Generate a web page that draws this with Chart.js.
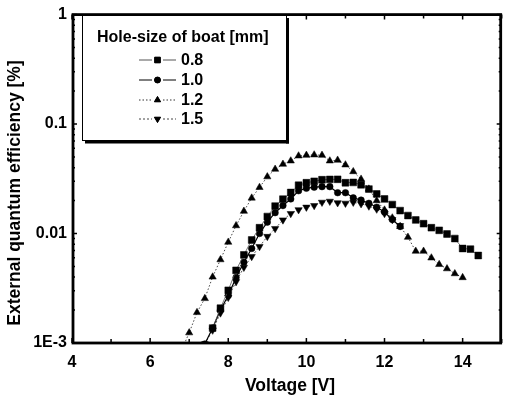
<!DOCTYPE html>
<html><head><meta charset="utf-8">
<script src="https://cdn.jsdelivr.net/npm/chart.js@4/dist/chart.umd.min.js"></script>
<style>html,body{margin:0;padding:0;background:#fff}#wrap{width:507px;height:403px}</style>
</head><body><div id="wrap"><canvas id="c" width="507" height="403"></canvas></div>
<script>
// ---- data ----
const labels = ['0.8', '1.0', '1.2', '1.5'];
const legendTitle = 'Hole-size of boat [mm]';
const xTitle = 'Voltage [V]';
const yTitle = 'External quantum efficiency [%]';
const xTicks = [4, 6, 8, 10, 12, 14];
const yTicks = [0.001, 0.01, 0.1, 1];
const yTickLabels = ['1E-3', '0.01', '0.1', '1'];

const v08 = [7.6,7.8,8.0,8.2,8.4,8.6,8.8,9.0,9.2,9.4,9.6,9.8,10.0,10.2,10.4,10.6,10.8,11.0,11.2,11.4,11.6,11.8,12.0,12.2,12.4,12.6,12.8,13.0,13.2,13.4,13.6,13.8,14.0,14.2,14.4];
const e08 = [0.00137,0.00208,0.00303,0.00461,0.00638,0.00873,0.0113,0.0143,0.0178,0.0206,0.0237,0.0276,0.0291,0.0300,0.0310,0.0312,0.0313,0.0291,0.0293,0.0279,0.0255,0.0230,0.0207,0.0184,0.0162,0.0146,0.0133,0.0123,0.0113,0.0107,0.0099,0.0090,0.0073,0.0072,0.0063];

const v10 = [7.4,7.6,7.8,8.0,8.2,8.4,8.6,8.8,9.0,9.2,9.4,9.6,9.8,10.0,10.2,10.4,10.6,10.8,11.0,11.2,11.4,11.6,11.8,12.0,12.2,12.4];
const e10 = [0.00098,0.00137,0.0020,0.00272,0.00396,0.00546,0.00731,0.0100,0.0127,0.0155,0.0180,0.0207,0.0246,0.0259,0.0265,0.0268,0.0268,0.0236,0.0236,0.0212,0.0202,0.0189,0.0174,0.0157,0.0134,0.0116];

const v12 = [6.8,7.0,7.2,7.4,7.6,7.8,8.0,8.2,8.4,8.6,8.8,9.0,9.2,9.4,9.6,9.8,10.0,10.2,10.4,10.6,10.8,11.0,11.2,11.4,11.6,11.8,12.0,12.2,12.4,12.6,12.8,13.0,13.2,13.4,13.6,13.8,14.0];
const e12 = [0.00085,0.00124,0.00190,0.00255,0.00401,0.00577,0.00834,0.0118,0.0160,0.0211,0.0264,0.0330,0.0387,0.0430,0.0461,0.0512,0.0519,0.0523,0.0519,0.0461,0.0468,0.0424,0.0368,0.0314,0.0255,0.0200,0.0164,0.0139,0.0116,0.00925,0.00690,0.00690,0.00599,0.00522,0.00477,0.00430,0.00396];

const v15 = [7.4,7.6,7.8,8.0,8.2,8.4,8.6,8.8,9.0,9.2,9.4,9.6,9.8,10.0,10.2,10.4,10.6,10.8,11.0,11.2,11.4,11.6,11.8,12.0,12.2,12.4];
const e15 = [0.00098,0.00131,0.00188,0.00261,0.00363,0.00491,0.00616,0.0076,0.0094,0.0111,0.0133,0.0152,0.0165,0.0174,0.0180,0.0193,0.0197,0.0191,0.0189,0.0193,0.0187,0.0178,0.0167,0.0152,0.0134,0.0118];

const xs = [v08, v10, v12, v15];
const ys = [e08, e10, e12, e15];
const styles = [
  {pointStyle:'rect', rot:0, r:4.8, dash:[], lw:0.8, lc:'#555'},
  {pointStyle:'circle', rot:0, r:3.3, dash:[], lw:1.2, lc:'#000'},
  {pointStyle:'triangle', rot:0, r:4.2, dash:[1.5,2], lw:0.9, lc:'#333'},
  {pointStyle:'triangle', rot:180, r:4.2, dash:[2,2], lw:0.9, lc:'#444'}
];

const datasets = labels.map((lab, i) => ({
  label: lab,
  data: xs[i].map((x, k) => ({x: x, y: ys[i][k]})),
  borderColor: styles[i].lc,
  borderWidth: styles[i].lw,
  borderDash: styles[i].dash,
  backgroundColor: '#000',
  pointBackgroundColor: '#000',
  pointBorderColor: '#000',
  pointBorderWidth: 0.5,
  pointStyle: styles[i].pointStyle,
  pointRotation: styles[i].rot,
  pointRadius: styles[i].r,
  tension: 0
}));

const FONT = '"Liberation Sans", Arial, sans-serif';

const decor = {
  id: 'decor',
  afterDatasetsDraw(chart) {
    const ctx = chart.ctx, a = chart.chartArea;
    const xs_ = chart.scales.x, ys_ = chart.scales.y;
    ctx.save();
    ctx.strokeStyle = '#000';
    // ticks
    ctx.lineWidth = 1.5;
    const xt = (v, len) => {
      const p = xs_.getPixelForValue(v);
      ctx.beginPath(); ctx.moveTo(p, a.bottom); ctx.lineTo(p, a.bottom - len);
      ctx.moveTo(p, a.top); ctx.lineTo(p, a.top + len); ctx.stroke();
    };
    for (let v = xs_.min; v <= xs_.max + 1e-9; v += 1) xt(v, (v % 2 === 0) ? 5 : 4);
    const yt = (v, len) => {
      const p = ys_.getPixelForValue(v);
      ctx.beginPath(); ctx.moveTo(a.left, p); ctx.lineTo(a.left + len, p);
      ctx.moveTo(a.right, p); ctx.lineTo(a.right - len, p); ctx.stroke();
    };
    for (let d = 0.001; d < 1.5; d *= 10) {
      yt(d, 5);
      if (d < 0.9) for (let m = 2; m <= 9; m++) yt(d * m, 3);
    }
    // frame
    ctx.lineWidth = 2.8;
    ctx.strokeRect(a.left + 1, a.top, a.right - a.left - 2, a.bottom - a.top);

    // axis titles
    ctx.fillStyle = '#000';
    ctx.textAlign = 'center';
    ctx.textBaseline = 'middle';
    ctx.font = 'bold 17.5px ' + FONT;
    ctx.fillText(xTitle, 290, 386);
    ctx.save();
    ctx.translate(15, 193);
    ctx.rotate(-Math.PI / 2);
    ctx.fillText(yTitle, 0, 0);
    ctx.restore();

    // legend box
    const bx = 82, by = 15, bw = 204, bh = 125;
    ctx.fillStyle = '#fff';
    ctx.fillRect(bx, by, bw, bh);
    ctx.lineWidth = 1;
    ctx.strokeRect(bx + 0.5, by + 0.5, bw, bh);
    ctx.fillStyle = '#000';
    ctx.fillRect(bx + 3, by + bh, bw, 3.5);
    ctx.fillRect(bx + bw, by + 3, 3, bh + 0.5);
    ctx.font = 'bold 16px ' + FONT;
    ctx.textBaseline = 'middle';
    ctx.textAlign = 'left';
    ctx.fillText(legendTitle, 97, 38);
    const rows = [60, 80, 100, 119];
    labels.forEach((lab, i) => {
      const y = rows[i];
      const s = styles[i];
      ctx.save();
      ctx.strokeStyle = s.lc; ctx.lineWidth = 1; ctx.setLineDash(s.dash);
      ctx.beginPath(); ctx.moveTo(139, y); ctx.lineTo(152, y); ctx.moveTo(163, y); ctx.lineTo(176, y); ctx.stroke();
      ctx.restore();
      const rr = i === 0 ? 4 : (i === 1 ? 3 : 3.6);
      Chart.helpers.drawPoint(ctx, {pointStyle: s.pointStyle, rotation: s.rot, radius: rr, borderWidth: 0.5}, 157.5, y);
      ctx.fillStyle = '#000';
      ctx.fill();
      ctx.font = 'bold 16px ' + FONT;
      ctx.fillText(lab, 181, y + 1);
    });
    ctx.restore();
  }
};

new Chart(document.getElementById('c'), {
  type: 'line',
  data: { datasets },
  options: {
    responsive: false,
    animation: false,
    events: [],
    layout: { padding: { top: 13, right: 0, left: 0, bottom: 0 } },
    plugins: { legend: { display: false }, tooltip: { enabled: false } },
    scales: {
      x: {
        type: 'linear', min: 4, max: 15,
        afterFit: s => { s.height = 60; },
        afterBuildTicks: s => { s.ticks = xTicks.map(v => ({value: v})); },
        grid: { display: false, drawTicks: false },
        border: { display: false },
        ticks: { color: '#000', font: { family: FONT, size: 16, weight: 'bold' }, padding: 10, maxRotation: 0 }
      },
      y: {
        type: 'logarithmic', min: 0.001, max: 1,
        afterFit: s => { s.width = 72; },
        afterBuildTicks: s => { s.ticks = yTicks.map(v => ({value: v})); },
        grid: { display: false, drawTicks: false },
        border: { display: false },
        ticks: { color: '#000', font: { family: FONT, size: 16, weight: 'bold' }, padding: 5,
          callback: v => { const i = yTicks.findIndex(t => Math.abs(t - v) < v * 1e-6); return i >= 0 ? yTickLabels[i] : ''; } }
      }
    }
  },
  plugins: [decor]
});
</script>
</body></html>
